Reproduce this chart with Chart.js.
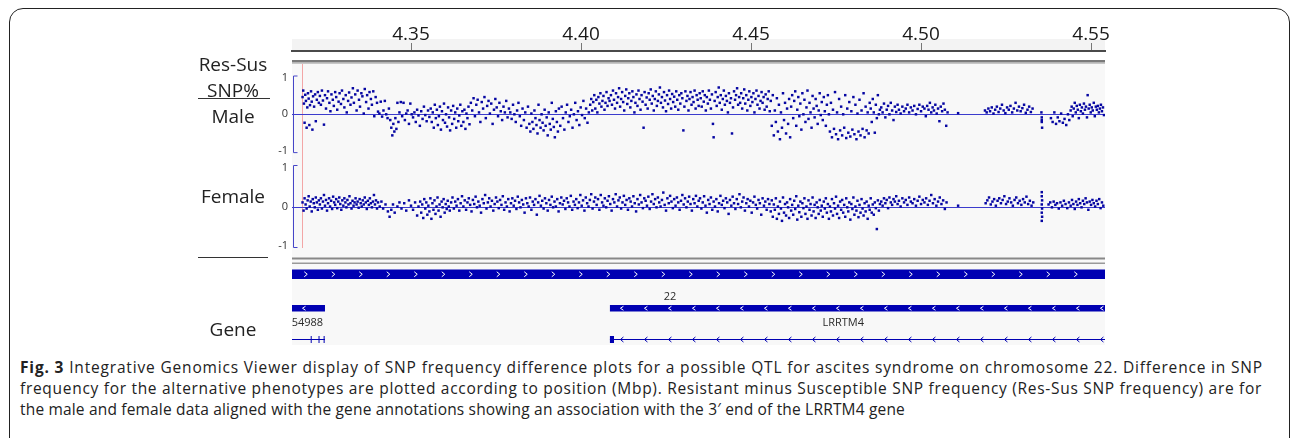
<!DOCTYPE html>
<html lang="en">
<head>
<meta charset="UTF-8">
<title>SNP frequency difference, chr22</title>
<script src="https://cdn.jsdelivr.net/npm/chart.js@4.4.1/dist/chart.umd.min.js"></script>
<style>
  html, body { margin: 0; padding: 0; background: #fff; }
  body { width: 1292px; height: 438px; overflow: hidden; position: relative; font-family: 'Open Sans', sans-serif; color: #222; }
  #frame { position: absolute; left: 9px; top: 8px; width: 1279px; height: 520px; border: 1.5px solid #222; border-radius: 14px; }
  #chart { position: absolute; left: 0; top: 0; }
  .lbl { position: absolute; left: 188px; width: 90px; text-align: center; font-size: 19px; line-height: 24px; color: #222; }
  .rule { position: absolute; height: 0; border-top: 1.5px solid #333; }
  .cap { position: absolute; left: 20px; top: 357px; font-size: 15.5px; line-height: 21px; color: #222; }
  .cap span { display: inline-block; white-space: nowrap; }
</style>
</head>
<body>
<div id="frame"></div>
<canvas id="chart" width="1292" height="350"></canvas>

<!-- track names -->
<div class="lbl" style="top:52px">Res-Sus</div>
<div class="lbl" style="top:78px">SNP%</div>
<div class="rule" style="left:198px; top:98px; width:72px"></div>
<div class="lbl" style="top:104px">Male</div>
<div class="lbl" style="top:184px">Female</div>
<div class="rule" style="left:198px; top:257px; width:70px"></div>
<div class="lbl" style="top:317px">Gene</div>

<div class="cap">
  <span data-w="1243"><b>Fig. 3</b> Integrative Genomics Viewer display of SNP frequency difference plots for a possible QTL for ascites syndrome on chromosome 22. Difference in SNP</span><br>
  <span data-w="1242">frequency for the alternative phenotypes are plotted according to position (Mbp). Resistant minus Susceptible SNP frequency (Res-Sus SNP frequency) are for</span><br>
  <span data-w="885">the male and female data aligned with the gene annotations showing an association with the 3′ end of the LRRTM4 gene</span>
</div>

<script>
    //-------------------------------- data --------------------------------
    var xTicks = [4.35, 4.40, 4.45, 4.50, 4.55];     // Mbp
    var viewStart = 4.3150, viewEnd = 4.5541;
    var markerPos = 4.3179;

    // [position Mbp, Res-Sus SNP frequency]
    var maleSnp = [
        [4.3181,0.45],[4.3183,0.62],[4.3185,0.28],[4.3187,-0.22],[4.3189,0.51],[4.3191,0.35],[4.3193,-0.35],[4.3195,0.18],[4.3197,0.55],[4.3199,0.41],[4.3201,-0.28],[4.3203,0.24],[4.3206,0.6],[4.3208,0.33],[4.321,-0.4],[4.3212,0.47],[4.3215,0.2],[4.3218,0.52],[4.322,-0.18],[4.3223,0.38],[4.3226,0.58],[4.3229,0.3],
        [4.3232,0.48],[4.3235,0.25],[4.3238,0.62],[4.3241,0.36],[4.3244,-0.27],[4.3247,0.5],[4.325,0.15],[4.3253,0.42],[4.3256,0.6],[4.326,0.3],[4.3263,0.08],[4.3266,0.52],[4.327,0.38],[4.3273,0.22],[4.3277,0.58],[4.328,0.45],[4.3283,0.12],[4.3287,0.33],[4.329,0.55],[4.3294,0.27],[4.3297,0.62],[4.3301,0.4],[4.3304,0.18],[4.3308,0.5],[4.3311,0.05],[4.3315,0.35],[4.3318,0.57],[4.3322,0.25],[4.3325,0.44],[4.3329,0.68],[4.3332,0.3],[4.3336,0.52],[4.334,0.1],[4.3343,0.62],[4.3347,0.38],[4.335,0.2],[4.3354,0.55],[4.3357,0.47],[4.3361,0.02],[4.3364,0.66],[4.3368,0.32],[4.3371,0.5],[4.3375,0.15],[4.3378,0.58],[4.3382,0.4],[4.3385,0.25],[4.3389,0.6],[4.3392,-0.05],[4.3396,0.45],[4.34,0.3],[4.3403,0.07],
        [4.3407,0.02],[4.3411,0.33],[4.3415,-0.06],[4.3419,0.1],[4.3423,0.35],[4.3427,0.0],[4.3431,-0.1],[4.3435,0.15],
        [4.3439,-0.15],[4.3442,-0.35],[4.3445,-0.55],[4.3448,-0.25],[4.3451,-0.45],[4.3454,-0.1],[4.3457,-0.38],[4.346,0.3],[4.3463,-0.2],[4.3466,0.05],
        [4.347,0.32],[4.3474,-0.05],[4.3478,0.3],[4.3482,-0.15],[4.3486,0.02],[4.349,0.1],[4.3494,-0.25],[4.3498,0.28],[4.3502,0.0],[4.3506,-0.08],[4.351,0.05],[4.3514,-0.2],[4.3518,0.12],[4.3522,-0.03],[4.3526,-0.3],[4.353,0.08],[4.3534,-0.12],[4.3538,0.2],[4.3542,-0.02],[4.3546,-0.18],[4.355,0.1],[4.3554,-0.07],
        [4.3558,0.15],[4.3561,-0.2],[4.3564,0.05],[4.3567,-0.35],[4.357,0.25],[4.3573,-0.1],[4.3576,0.12],[4.3579,-0.28],[4.3582,-0.05],[4.3585,0.2],[4.3588,-0.4],[4.3591,0.08],[4.3594,-0.15],[4.3597,0.28],[4.36,-0.22],[4.3603,0.0],[4.3606,-0.32],[4.3609,0.18],[4.3612,-0.08],[4.3615,-0.42],[4.3618,0.1],[4.3621,-0.25],[4.3624,0.22],[4.3627,-0.12],[4.363,0.05],[4.3633,-0.35],[4.3636,0.15],[4.3639,-0.18],[4.3642,-0.03],[4.3645,0.25],[4.3648,-0.3],[4.3651,0.08],[4.3654,-0.2],[4.3657,0.12],[4.366,-0.38],[4.3663,0.02],[4.3666,-0.1],[4.3669,0.2],[4.3672,-0.26],
        [4.3676,0.3],[4.368,0.1],[4.3684,0.42],[4.3688,-0.05],[4.3692,0.25],[4.3696,0.38],[4.37,0.05],[4.3704,-0.2],[4.3708,0.32],[4.3712,0.15],[4.3716,0.45],[4.372,-0.1],[4.3724,0.22],[4.3728,0.35],[4.3732,0.02],[4.3736,0.28],[4.374,-0.25],[4.3744,0.12],[4.3748,0.4],[4.3752,0.18],[4.3756,-0.05],[4.376,0.3],[4.3764,0.08],[4.3768,-0.15],[4.3772,0.2],[4.3776,0.05],[4.378,0.35],[4.3784,-0.08],[4.3788,0.15],
        [4.3792,0.05],[4.3796,-0.12],[4.38,0.25],[4.3804,0.0],[4.3808,-0.2],[4.3812,0.1],[4.3816,0.3],[4.382,-0.05],[4.3824,-0.3],[4.3828,0.15],[4.3832,-0.15],[4.3836,0.05],[4.384,-0.35],[4.3844,0.2],[4.3848,-0.25],[4.3851,-0.45],[4.3854,0.02],[4.3857,-0.2],[4.386,-0.38],[4.3863,0.1],[4.3866,-0.1],[4.3869,-0.28],[4.3872,-0.5],[4.3875,0.25],[4.3878,-0.15],[4.3881,-0.35],[4.3884,0.0],[4.3887,-0.22],[4.389,-0.42],[4.3893,0.12],[4.3896,-0.3],[4.3899,-0.08],[4.3902,-0.55],[4.3905,0.05],[4.3908,-0.25],[4.3911,-0.4],[4.3914,0.3],[4.3917,-0.12],[4.392,-0.33],[4.3923,-0.6],[4.3926,0.08],[4.3929,-0.2],[4.3932,-0.45],[4.3935,0.15],
        [4.3939,-0.3],[4.3943,0.2],[4.3947,-0.1],[4.3951,-0.4],[4.3955,0.05],[4.3959,0.25],[4.3963,-0.2],[4.3967,-0.05],[4.3971,0.12],[4.3975,-0.35],[4.3979,0.0],[4.3983,0.3],[4.3987,-0.15],[4.3991,0.08],[4.3995,-0.28],[4.3999,0.18],[4.4003,-0.02],[4.4007,0.35],[4.4011,-0.1],[4.4015,0.15],[4.4019,-0.22],[4.4023,0.05],
        [4.4027,0.25],[4.403,0.4],[4.4033,0.1],[4.4036,0.32],[4.4039,0.5],[4.4042,0.15],[4.4045,0.38],[4.4048,0.05],[4.4051,0.45],[4.4054,0.28],[4.4057,0.55],[4.406,0.2],[4.4063,0.35],[4.4066,0.48],[4.4069,0.12],[4.4072,0.3],[4.4075,0.58],[4.4078,0.22],[4.4081,0.42],[4.4084,0.35],
        [4.4088,0.5],[4.4091,0.25],[4.4094,0.62],[4.4097,0.38],[4.41,0.15],[4.4103,0.55],[4.4106,0.3],[4.4109,0.45],[4.4112,0.68],[4.4115,0.2],[4.4118,0.4],[4.4121,0.58],[4.4124,0.32],[4.4127,0.1],[4.413,0.48],[4.4133,0.65],[4.4136,0.27],[4.4139,0.42],[4.4142,0.55],[4.4145,0.18],[4.4148,0.35],[4.4151,0.6],[4.4154,0.45],[4.4157,0.05],[4.416,0.3],[4.4163,0.52],[4.4166,0.22],[4.4169,0.62],[4.4172,0.4],[4.4175,0.12],[4.4178,0.5],[4.4181,0.33],[4.4184,-0.35],[4.4187,0.58],[4.419,0.25],[4.4193,0.44],[4.4196,0.15],[4.4199,0.55],[4.4202,0.38],[4.4205,0.65],[4.4208,0.28],[4.4211,0.48],[4.4214,0.1],[4.4217,0.4],[4.422,0.6],[4.4223,0.22],[4.4226,0.35],[4.4229,0.52],[4.4232,0.7],[4.4235,0.3],[4.4238,0.45],[4.4241,0.18],[4.4244,0.58],[4.4247,0.36],[4.425,0.08],[4.4253,0.5],[4.4256,0.27],[4.4259,0.62],[4.4262,0.4],[4.4265,0.15],[4.4268,0.53],[4.4271,0.32],[4.4274,0.46],[4.4277,0.2],[4.428,0.6],[4.4283,0.38],[4.4286,0.12],[4.4289,0.5],[4.4292,0.28],[4.4295,0.55],[4.4298,0.42],[4.4301,-0.42],[4.4304,0.2],[4.4307,0.6],[4.431,0.35],[4.4313,0.48],[4.4316,0.1],[4.4319,0.4],[4.4322,0.58],[4.4325,0.25],[4.4328,0.45],[4.4331,0.32],[4.4334,0.62],[4.4337,0.15],[4.434,0.5],[4.4343,0.38],[4.4346,0.22],[4.4349,0.55],
        [4.4352,0.42],[4.4355,0.2],[4.4358,0.6],[4.4361,0.33],[4.4364,0.5],[4.4367,0.1],[4.437,0.45],[4.4373,0.28],[4.4376,0.62],[4.4379,0.38],[4.4382,0.15],[4.4385,0.52],[4.4388,-0.25],[4.439,-0.6],[4.4393,0.35],[4.4396,0.58],[4.4399,0.22],[4.4402,0.45],[4.4405,0.7],[4.4408,0.3],[4.4411,0.5],[4.4414,0.12],[4.4417,0.4],[4.442,0.62],[4.4423,0.25],[4.4426,0.48],[4.4429,0.35],[4.4432,0.05],[4.4435,0.55],[4.4438,0.3],[4.4441,0.42],[4.4444,-0.5],[4.4447,0.18],[4.445,0.6],[4.4453,0.38],[4.4456,0.5],[4.4459,0.68],[4.4462,0.25],[4.4465,0.45],
        [4.4468,0.3],[4.4471,0.55],[4.4474,0.15],[4.4477,0.42],[4.448,0.65],[4.4483,0.28],[4.4486,0.5],[4.4489,0.1],[4.4492,0.38],[4.4495,0.6],[4.4498,0.22],[4.4501,0.45],[4.4504,0.32],[4.4507,0.55],[4.451,0.05],[4.4513,0.4],[4.4516,0.62],[4.4519,0.25],[4.4522,0.48],[4.4525,0.15],[4.4528,0.35],[4.4531,0.58],[4.4534,0.3],[4.4537,0.45],[4.454,0.12],[4.4543,0.52],[4.4546,0.2],[4.4549,0.4],[4.4552,0.6],[4.4555,0.08],
        [4.4558,0.35],[4.4561,-0.3],[4.4564,0.5],[4.4567,-0.55],[4.457,0.1],[4.4573,-0.2],[4.4576,0.42],[4.4579,-0.45],[4.4582,0.25],[4.4585,-0.65],[4.4588,0.05],[4.4591,-0.35],[4.4594,0.55],[4.4597,-0.15],[4.46,0.3],[4.4603,-0.5],[4.4606,0.15],[4.4609,-0.25],[4.4612,0.4],[4.4615,-0.6],
        [4.4618,0.2],[4.4621,0.5],[4.4624,-0.1],[4.4627,0.35],[4.463,0.6],[4.4633,-0.3],[4.4636,0.12],[4.4639,0.45],[4.4642,-0.05],[4.4645,0.28],[4.4648,-0.4],[4.4651,0.55],[4.4654,0.0],[4.4657,0.38],[4.466,-0.2],[4.4663,0.18],[4.4666,0.62],[4.4669,-0.12],[4.4672,0.3],[4.4675,0.05],[4.4678,-0.35],[4.4681,0.48],[4.4684,0.15],[4.4687,-0.08],[4.469,0.4],[4.4693,0.22],[4.4696,-0.25],[4.4699,0.1],[4.4702,0.55],[4.4705,-0.02],[4.4708,0.32],[4.4711,-0.15],[4.4714,0.45],[4.4717,0.08],[4.472,-0.3],[4.4723,0.25],[4.4726,0.5],[4.4729,0.0],
        [4.4732,-0.45],[4.4735,0.3],[4.4738,-0.6],[4.4741,0.12],[4.4744,-0.38],[4.4747,0.58],[4.475,-0.52],[4.4753,0.05],[4.4756,-0.65],[4.4759,0.4],[4.4762,-0.42],[4.4765,0.2],[4.4768,-0.55],[4.4771,0.0],[4.4774,-0.35],[4.4777,0.5],[4.478,-0.62],[4.4783,0.15],[4.4786,-0.48],[4.4789,0.32],[4.4792,-0.58],[4.4795,0.08],[4.4798,-0.4],[4.4801,0.45],[4.4804,-0.52],[4.4807,0.25],[4.481,-0.65],[4.4813,0.02],[4.4816,-0.45],[4.4819,0.38],[4.4822,-0.55],[4.4825,0.1],[4.4828,-0.38],[4.4831,0.55],[4.4834,-0.6],[4.4837,0.2],[4.484,-0.42],[4.4843,0.05],[4.4846,-0.5],[4.4849,0.3],
        [4.4852,0.15],[4.4855,-0.2],[4.4858,0.4],[4.4861,0.05],[4.4864,-0.48],[4.4867,0.25],[4.487,-0.1],[4.4873,0.5],[4.4876,0.0],[4.4879,0.12],
        [4.4883,0.18],[4.4887,0.05],[4.4891,0.28],[4.4895,-0.08],[4.4899,0.12],[4.4903,0.22],[4.4907,0.0],[4.4911,0.3],[4.4915,0.1],[4.4919,-0.15],[4.4923,0.2],[4.4927,0.06],[4.4931,0.25],[4.4935,0.12],[4.494,0.02],[4.4945,0.2],[4.495,0.08],[4.4955,0.15],[4.496,0.25],[4.4965,0.05],[4.497,0.18],[4.4975,0.1],[4.498,0.22],[4.4985,0.0],[4.499,0.14],[4.4995,0.25],[4.5,0.08],[4.5005,0.2],[4.501,0.15],[4.5014,-0.05],[4.5018,0.22],[4.5022,0.12],[4.5026,0.3],[4.503,0.05],[4.5034,0.18],[4.5038,0.1],[4.5042,0.25],[4.5046,0.02],[4.505,0.15],[4.5054,-0.18],[4.5058,0.2],[4.5062,0.08],[4.5066,0.28],[4.507,0.12],[4.5074,-0.3],[4.5078,0.05],
        [4.5109,0.03],
        [4.5188,0.1],[4.5193,0.05],[4.5198,0.15],[4.5203,0.08],[4.5208,0.18],[4.5213,0.02],[4.5218,0.12],[4.5223,0.2],[4.5228,0.06],[4.5233,0.15],[4.5238,0.25],[4.5243,0.1],[4.5248,0.03],[4.5253,0.18],[4.5258,0.12],[4.5263,0.22],[4.5268,0.05],[4.5273,0.15],[4.5278,0.3],[4.5283,0.1],[4.5288,0.2],[4.5293,0.08],[4.5298,0.16],[4.5303,0.25],[4.5308,0.04],[4.5313,0.12],[4.5318,0.2],[4.5323,0.06],[4.5328,0.15],
        [4.5354,0.05],[4.5355,-0.08],[4.5355,-0.2],[4.5356,-0.35],[4.5355,-0.15],
        [4.5382,-0.1],[4.5387,-0.2],[4.5392,0.05],[4.5397,-0.25],[4.5402,-0.08],[4.5407,-0.18],[4.5412,0.02],[4.5417,-0.22],[4.5422,-0.12],[4.5427,-0.28],[4.5432,0.0],[4.5436,-0.15],
        [4.544,0.1],[4.5443,0.2],[4.5446,-0.05],[4.5449,0.15],[4.5452,0.3],[4.5455,0.05],[4.5458,0.22],[4.5461,0.12],[4.5464,-0.1],[4.5467,0.25],[4.547,0.08],[4.5473,0.18],[4.5476,0.02],[4.5479,0.28],[4.5482,0.12],[4.5485,0.2],[4.5488,-0.08],[4.549,0.5],[4.5493,0.15],[4.5496,0.25],[4.5499,0.05],[4.5502,0.18],[4.5505,0.1],[4.5508,0.3],[4.5511,-0.05],[4.5514,0.2],[4.5517,0.12],[4.552,0.22],[4.5523,0.05],[4.5526,0.15],[4.5529,0.25],[4.5532,0.08],[4.5535,0.18],[4.5538,-0.02]
    ];

    var femaleSnp = [
        [4.3181,0.1],[4.3184,-0.1],[4.3187,0.2],[4.319,0.05],[4.3193,-0.05],[4.3196,0.15],[4.3199,0.25],[4.3202,0.0],[4.3205,0.12],[4.3208,-0.12],[4.3211,0.18],[4.3214,0.08],[4.3217,-0.02],[4.322,0.22],[4.3223,0.1],[4.3226,-0.08],[4.3229,0.15],[4.3232,0.05],[4.3235,0.2],[4.3238,-0.05],[4.3241,0.12],[4.3244,0.28],[4.3247,0.02],[4.325,0.16],[4.3253,-0.1],[4.3256,0.08],[4.3259,0.2],[4.3262,0.0],[4.3265,0.14],[4.3268,-0.06],[4.3271,0.24],[4.3274,0.1],[4.3277,0.04],[4.328,0.18],[4.3283,-0.04],[4.3286,0.12],[4.3289,0.22],[4.3292,0.06],[4.3295,-0.08],[4.3298,0.15],[4.3301,0.02],[4.3304,0.2],[4.3307,0.1],[4.331,-0.02],[4.3313,0.16],[4.3316,0.05],[4.3319,0.25],[4.3322,0.08],[4.3325,-0.05],[4.3328,0.14],[4.3331,0.02],[4.3334,0.1],[4.3337,0.2],[4.334,0.05],[4.3343,0.12],[4.3346,-0.03],[4.3349,0.18],[4.3352,0.08],[4.3355,0.0],[4.3358,0.15],[4.3361,0.05],[4.3364,0.22],[4.3367,0.1],[4.337,-0.06],[4.3373,0.14],[4.3376,0.04],[4.3379,0.2],[4.3382,0.08],[4.3385,-0.02],[4.3388,0.12],[4.3391,0.28],[4.3394,0.05],[4.3397,0.15],[4.34,-0.05],[4.3403,0.1],
        [4.3408,0.0],[4.3413,0.12],[4.3418,-0.05],[4.3425,0.05],
        [4.3432,-0.12],[4.3437,-0.25],[4.3442,-0.08],[4.3447,0.05],[4.3452,-0.15],[4.346,0.0],[4.3466,0.1],[4.3472,-0.05],[4.348,0.08],[4.3486,-0.1],[4.3494,0.15],[4.35,0.02],[4.3506,-0.08],[4.3512,0.1],[4.3518,-0.22],[4.3522,0.0],
        [4.3527,0.12],[4.353,-0.15],[4.3533,0.05],[4.3536,-0.28],[4.3539,0.18],[4.3542,-0.05],[4.3545,0.1],[4.3548,-0.2],[4.3551,0.02],[4.3554,-0.12],[4.3557,0.2],[4.356,-0.3],[4.3563,0.08],[4.3566,-0.08],[4.3569,0.15],[4.3572,-0.18],[4.3575,0.0],[4.3578,0.22],[4.3581,-0.1],[4.3584,0.05],[4.3587,-0.25],[4.359,0.12],[4.3593,-0.02],[4.3596,0.18],[4.3599,-0.15],[4.3602,0.06],[4.3605,-0.06],[4.3608,0.14],[4.3611,0.0],[4.3614,-0.1],
        [4.3618,0.1],[4.3622,0.22],[4.3626,-0.05],[4.363,0.12],[4.3634,0.02],[4.3638,0.18],[4.3642,-0.1],[4.3646,0.08],[4.365,0.25],[4.3654,0.0],[4.3658,0.15],[4.3662,-0.08],[4.3666,0.1],[4.367,0.2],[4.3674,0.04],[4.3678,-0.12],[4.3682,0.16],[4.3686,0.06],[4.369,0.24],[4.3694,-0.02],[4.3698,0.12],[4.3702,0.02],[4.3706,-0.15],[4.371,0.18],[4.3714,0.08],[4.3718,0.28],[4.3722,-0.05],[4.3726,0.1],[4.373,0.2],[4.3734,0.0],[4.3738,0.14],[4.3742,-0.1],[4.3746,0.06],[4.375,0.22],[4.3754,0.12],[4.3758,-0.04],[4.3762,0.16],[4.3766,0.04],[4.377,0.25],[4.3774,-0.08],[4.3778,0.1],[4.3782,0.0],[4.3786,0.18],[4.379,-0.12],[4.3794,0.08],[4.3798,0.2],[4.3802,0.02],[4.3806,0.14],[4.381,-0.06],[4.3814,0.24],[4.3818,0.1],[4.3822,-0.02],[4.3826,0.16],[4.383,0.05],[4.3834,-0.15],[4.3838,0.2],[4.3842,0.08],[4.3846,0.0],[4.385,0.22],[4.3854,-0.08],[4.3858,0.12],[4.3862,0.04],[4.3866,0.18],[4.387,-0.2],[4.3874,0.1],[4.3878,0.26],[4.3882,0.02],[4.3886,0.14],[4.389,-0.05],[4.3894,0.2],[4.3898,0.08],[4.3902,-0.1],[4.3906,0.16],[4.391,0.04],[4.3914,0.24],[4.3918,-0.02],[4.3922,0.12],[4.3926,0.0],[4.393,0.18],[4.3934,-0.12],[4.3938,0.08],[4.3942,0.22],[4.3946,0.05],[4.395,0.14],[4.3954,-0.06],[4.3958,0.2],[4.3962,0.1],[4.3966,0.0],[4.397,0.26],[4.3974,-0.08],[4.3978,0.12],[4.3982,0.04],[4.3986,0.18],[4.399,-0.04],[4.3994,0.1],[4.3998,0.28],[4.4002,0.02],[4.4006,0.15],[4.401,-0.1],[4.4014,0.22],[4.4018,0.08],[4.4022,0.0],[4.4026,0.16],[4.403,0.3],[4.4034,-0.05],[4.4038,0.12],[4.4042,0.22],[4.4046,0.04],[4.405,0.18],[4.4054,-0.08],[4.4058,0.28],[4.4062,0.1],[4.4066,0.02],[4.407,0.2],[4.4074,-0.02],[4.4078,0.14],[4.4082,0.25],[4.4086,0.06],[4.409,-0.1],[4.4094,0.18],[4.4098,0.1],[4.4102,0.3],[4.4106,0.0],[4.411,0.15],[4.4114,0.22],[4.4118,-0.05],[4.4122,0.1],[4.4126,0.26],[4.413,0.04],[4.4134,0.16],[4.4138,-0.08],[4.4142,0.2],[4.4146,0.12],[4.415,0.0],[4.4154,0.25],[4.4158,0.08],[4.4162,-0.12],[4.4166,0.18],[4.417,0.05],[4.4174,0.28],[4.4178,0.1],[4.4182,-0.04],[4.4186,0.2],[4.419,0.14],[4.4194,0.02],[4.4198,0.24],[4.4202,-0.06],[4.4206,0.12],[4.421,0.3],[4.4214,0.06],[4.4218,0.18],[4.4222,-0.02],[4.4226,0.22],[4.423,0.1],[4.4234,0.0],[4.4238,0.16],[4.4242,0.34],[4.4246,0.04],[4.425,-0.1],[4.4254,0.2],[4.4258,0.08],[4.4262,0.26],[4.4266,0.12],[4.427,-0.04],[4.4274,0.18],[4.4278,0.02],[4.4282,0.22],[4.4286,0.1],[4.429,-0.08],[4.4294,0.14],[4.4298,0.28],[4.4302,0.05],[4.4306,0.2],[4.431,-0.02],[4.4314,0.12],[4.4318,0.24],[4.4322,0.06],[4.4326,-0.1],[4.433,0.18],[4.4334,0.08],[4.4338,0.26],[4.4342,0.0],[4.4346,0.14],
        [4.435,0.2],[4.4354,-0.05],[4.4358,0.1],[4.4362,0.25],[4.4366,0.02],[4.437,-0.15],[4.4374,0.16],[4.4378,0.06],[4.4382,0.22],[4.4386,-0.08],[4.439,0.12],[4.4394,0.0],[4.4398,0.18],[4.4402,-0.12],[4.4406,0.08],[4.441,0.26],[4.4414,0.04],[4.4418,0.14],[4.4422,-0.04],[4.4426,0.2],[4.443,0.1],[4.4434,-0.18],[4.4438,0.16],[4.4442,0.02],[4.4446,0.24],[4.445,0.08],[4.4454,-0.06],[4.4458,0.18],[4.4462,0.06],[4.4466,0.3],[4.447,-0.02],[4.4474,0.12],[4.4478,0.22],[4.4482,-0.1],[4.4486,0.08],[4.449,0.18],[4.4494,0.0],[4.4498,0.14],[4.4502,-0.15],[4.4506,0.1],[4.451,0.24],[4.4514,0.04],[4.4518,-0.05],[4.4522,0.16],[4.4526,0.08],[4.453,-0.2],[4.4534,0.2],[4.4538,0.02],[4.4542,0.12],[4.4546,-0.08],[4.455,0.18],[4.4554,0.06],
        [4.4558,-0.12],[4.4561,0.15],[4.4564,-0.25],[4.4567,0.05],[4.457,-0.08],[4.4573,0.2],[4.4576,-0.3],[4.4579,0.0],[4.4582,-0.18],[4.4585,0.12],[4.4588,-0.05],[4.4591,-0.35],[4.4594,0.22],[4.4597,-0.15],[4.46,0.06],[4.4603,-0.22],[4.4606,0.1],[4.4609,-0.02],[4.4612,-0.28],[4.4615,0.18],[4.4618,-0.1],[4.4621,0.04],[4.4624,-0.2],[4.4627,0.14],[4.463,-0.06],[4.4633,0.25],[4.4636,-0.32],[4.4639,0.02],[4.4642,-0.14],[4.4645,0.12],[4.4648,-0.25],[4.4651,0.08],[4.4654,-0.04],[4.4657,0.2],[4.466,-0.18],[4.4663,0.0],[4.4666,-0.3],[4.4669,0.15],[4.4672,-0.08],[4.4675,0.06],[4.4678,-0.22],[4.4681,0.22],[4.4684,-0.12],[4.4687,0.04],[4.469,-0.28],[4.4693,0.1],[4.4696,-0.02],[4.4699,-0.18],[4.4702,0.16],[4.4705,-0.1],[4.4708,0.02],[4.4711,-0.25],[4.4714,0.12],[4.4717,-0.05],[4.472,0.2],[4.4723,-0.15],[4.4726,0.06],[4.4729,-0.3],[4.4732,0.0],[4.4735,-0.12],[4.4738,0.18],[4.4741,-0.22],[4.4744,0.08],[4.4747,-0.05],[4.475,0.24],[4.4753,-0.18],[4.4756,0.02],[4.4759,-0.28],[4.4762,0.12],[4.4765,-0.08],[4.4768,0.16],[4.4771,-0.15],[4.4774,0.04],[4.4777,-0.25],[4.478,0.2],[4.4783,-0.02],[4.4786,-0.12],[4.4789,0.1],[4.4792,-0.32],[4.4795,0.06],[4.4798,-0.06],[4.4801,0.22],[4.4804,-0.2],[4.4807,0.0],[4.481,-0.1],[4.4813,0.14],[4.4816,-0.26],[4.4819,0.04],[4.4822,-0.15],[4.4825,0.18],[4.4828,-0.05],[4.4831,-0.22],[4.4834,0.08],[4.4837,-0.12],[4.484,0.12],[4.4843,-0.3],[4.4846,0.02],[4.4849,-0.08],[4.4852,0.2],[4.4855,-0.15],[4.4858,0.05],[4.4861,-0.2],[4.4864,0.1],[4.4867,-0.04],[4.487,-0.55],[4.4873,0.15],[4.4876,-0.1],[4.4879,0.06],
        [4.4883,0.12],[4.4887,0.02],[4.4891,0.2],[4.4895,0.08],[4.4899,0.16],[4.4903,-0.04],[4.4907,0.22],[4.4911,0.1],[4.4915,0.04],[4.4919,0.18],[4.4923,0.12],[4.4927,0.25],[4.4931,0.06],[4.4935,0.14],[4.494,0.0],[4.4945,0.2],[4.495,0.1],[4.4955,0.16],[4.496,0.04],[4.4965,0.22],[4.497,0.12],[4.4975,0.08],[4.498,0.18],[4.4985,0.02],[4.499,0.14],[4.4995,0.24],[4.5,0.06],[4.5005,0.16],[4.501,0.1],[4.5015,0.2],[4.502,0.04],[4.5025,0.14],[4.503,0.28],[4.5035,0.08],[4.504,0.18],[4.5045,0.02],[4.505,0.12],[4.5055,0.22],[4.506,0.06],[4.5065,0.15],[4.507,-0.06],[4.5075,0.1],
        [4.5109,0.02],
        [4.519,0.08],[4.5195,0.15],[4.52,0.22],[4.5205,0.05],[4.521,0.12],[4.5215,0.18],[4.522,0.02],[4.5225,0.14],[4.523,0.2],[4.5235,0.08],[4.524,0.16],[4.5245,0.25],[4.525,0.06],[4.5255,0.12],[4.526,0.2],[4.5265,0.1],[4.527,0.02],[4.5275,0.16],[4.528,0.22],[4.5285,0.08],[4.529,0.14],[4.5295,0.04],[4.53,0.18],[4.5305,0.1],[4.531,0.24],[4.5315,0.06],[4.532,0.14],[4.5325,0.02],[4.533,0.1],
        [4.5355,0.35],[4.5355,0.25],[4.5356,0.15],[4.5355,0.05],[4.5356,-0.05],[4.5355,-0.15],[4.5356,-0.25],[4.5355,-0.35],
        [4.5375,0.05],[4.538,0.1],[4.5385,-0.02],[4.539,0.12],[4.5395,0.04],[4.54,0.08],[4.5405,-0.05],[4.541,0.1],[4.5415,0.02],[4.542,0.14],[4.5425,0.06],[4.543,-0.04],[4.5435,0.1],[4.544,0.02],[4.5444,0.16],[4.5448,0.06],[4.5452,-0.06],[4.5456,0.12],[4.546,0.04],[4.5464,0.18],[4.5468,0.08],[4.5472,-0.02],[4.5476,0.14],[4.548,0.06],[4.5484,0.2],[4.5488,0.1],[4.5492,-0.08],[4.5496,0.12],[4.55,0.04],[4.5504,0.16],[4.5508,0.08],[4.5512,0.0],[4.5516,0.14],[4.552,0.06],[4.5524,0.18],[4.5528,-0.04],[4.5532,0.1],[4.5536,0.02]
    ];

    // gene track features (Mbp)
    var featStart  = [4.2600, 4.2900, 4.4085];
    var featEnd    = [4.6200, 4.3247, 4.7000];
    var featRow    = [0, 1, 1];
    var featStrand = ['+', '-', '-'];
    var featName   = ['22', 'LOC107054988', 'LRRTM4'];
    var namePos    = [4.4262, 4.3127, 4.4771];
    // transcript row
    var txStart   = [4.2900, 4.4085];
    var txEnd     = [4.3247, 4.7000];
    var exonStart = [4.3205, 4.3228, 4.3243, 4.4085];
    var exonEnd   = [4.3207, 4.3230, 4.3246, 4.4097];

    //-------------------------------- drawing --------------------------------
    var BLUE = 'rgb(0,0,178)';
    var rowTop = [269.5, 305];
    var rowH = [9.5, 6.5];
    var txY = 339.5;

    function chevrons(ctx, x0, x1, cy, step, dir, color, h) {
        ctx.strokeStyle = color;
        ctx.lineWidth = 1;
        ctx.beginPath();
        for (var cx = x0 + step / 2; cx < x1 - 2; cx += step) {
            ctx.moveTo(cx - 1.5 * dir, cy - h);
            ctx.lineTo(cx + 1.5 * dir, cy);
            ctx.lineTo(cx - 1.5 * dir, cy + h);
        }
        ctx.stroke();
    }

    var igvTracks = {
        id: 'igvTracks',
        beforeDraw: function (chart) {
            var ctx = chart.ctx, a = chart.chartArea;
            ctx.save();
            ctx.fillStyle = '#f3f3f3';
            ctx.fillRect(a.left, 39, a.width, 12);
            ctx.fillStyle = '#f8f8f8';
            ctx.fillRect(a.left, 64, a.width, a.bottom - 64);
            ctx.restore();
        },
        beforeDatasetsDraw: function (chart) {
            var ctx = chart.ctx, a = chart.chartArea, s = chart.scales, x = s.x;
            ctx.save();
            ctx.beginPath();
            ctx.rect(a.left, a.top, a.width, a.height);
            ctx.clip();

            // track separators
            ctx.fillStyle = '#7a7a7a'; ctx.fillRect(a.left, 60, a.width, 2.5);
            ctx.fillStyle = '#b0b0b0'; ctx.fillRect(a.left, 62.5, a.width, 1.2);
            ctx.fillStyle = '#888';    ctx.fillRect(a.left, 257.5, a.width, 2);
            ctx.fillStyle = '#999';    ctx.fillRect(a.left, 262.5, a.width, 1.5);

            // red position marker
            var mx = Math.round(x.getPixelForValue(markerPos)) + 0.5;
            ctx.strokeStyle = '#f3a6a6'; ctx.lineWidth = 1;
            ctx.beginPath(); ctx.moveTo(mx, 64); ctx.lineTo(mx, 248); ctx.stroke();

            // zero lines
            ctx.strokeStyle = 'rgb(60,60,205)';
            ['yM', 'yF'].forEach(function (id) {
                var y0 = Math.round(s[id].getPixelForValue(0)) + 0.5;
                ctx.beginPath(); ctx.moveTo(a.left - 2, y0); ctx.lineTo(a.right, y0); ctx.stroke();
            });

            // feature bars
            for (var i = 0; i < featStart.length; i++) {
                var x0 = Math.max(x.getPixelForValue(featStart[i]), a.left);
                var x1 = Math.min(x.getPixelForValue(featEnd[i]), a.right);
                var r = featRow[i];
                ctx.fillStyle = BLUE;
                ctx.fillRect(x0, rowTop[r], x1 - x0, rowH[r]);
                var cy = rowTop[r] + rowH[r] / 2;
                if (featStrand[i] === '+') chevrons(ctx, x0, x1, cy, 27.5, 1, '#fff', 2.5);
                else chevrons(ctx, x0, x1, cy, 24, -1, '#fff', 2);
            }
            // feature names
            ctx.fillStyle = '#2a2a2a';
            ctx.font = '11px "Open Sans"';
            ctx.textAlign = 'center';
            ctx.textBaseline = 'middle';
            for (var j = 0; j < featName.length; j++) {
                var ny = featRow[j] === 0 ? 297 : 323;
                ctx.fillText(featName[j], x.getPixelForValue(namePos[j]), ny);
            }

            // transcripts
            for (var k = 0; k < txStart.length; k++) {
                var t0 = Math.max(x.getPixelForValue(txStart[k]), a.left);
                var t1 = Math.min(x.getPixelForValue(txEnd[k]), a.right);
                ctx.strokeStyle = BLUE; ctx.lineWidth = 1;
                ctx.beginPath(); ctx.moveTo(t0, txY); ctx.lineTo(t1, txY); ctx.stroke();
                if (t1 - t0 > 100) chevrons(ctx, t0, t1, txY, 24, -1, BLUE, 2.5);
            }
            ctx.fillStyle = BLUE;
            for (var e = 0; e < exonStart.length; e++) {
                var e0 = x.getPixelForValue(exonStart[e]);
                var e1 = x.getPixelForValue(exonEnd[e]);
                ctx.fillRect(e0, txY - 3.5, Math.max(1, e1 - e0), 7);
            }
            ctx.restore();
        },
        afterDraw: function (chart) {
            var ctx = chart.ctx, a = chart.chartArea, s = chart.scales;
            ctx.save();
            ctx.font = '11px "Open Sans"';
            ctx.fillStyle = '#333';
            ctx.textAlign = 'right';
            ctx.textBaseline = 'middle';
            ctx.strokeStyle = 'rgb(70,70,200)';
            ctx.lineWidth = 1;
            ['yM', 'yF'].forEach(function (id) {
                var sc = s[id];
                var yt = sc.getPixelForValue(1), y0 = sc.getPixelForValue(0), yb = sc.getPixelForValue(-1);
                ctx.fillText('1', a.left - 4, yt + 2);
                ctx.fillText('0', a.left - 4, y0);
                ctx.fillText('-1', a.left - 4, yb - 2);
                var bx = a.left + 1.5;
                ctx.beginPath();
                ctx.moveTo(bx + 4, yt); ctx.lineTo(bx, yt); ctx.lineTo(bx, yb); ctx.lineTo(bx + 4, yb);
                ctx.stroke();
            });
            ctx.restore();
        }
    };

    function toPoints(arr) {
        return arr.map(function (p) { return { x: p[0], y: p[1] }; });
    }

    var chart = new Chart(document.getElementById('chart'), {
        type: 'scatter',
        data: {
            datasets: [
                { label: 'Male', data: toPoints(maleSnp), yAxisID: 'yM',
                  pointStyle: 'rect', pointRadius: 1.75, borderWidth: 0, backgroundColor: '#0606a2' },
                { label: 'Female', data: toPoints(femaleSnp), yAxisID: 'yF',
                  pointStyle: 'rect', pointRadius: 1.75, borderWidth: 0, backgroundColor: '#0606a2' }
            ]
        },
        options: {
            responsive: false,
            animation: false,
            events: [],
            layout: { padding: { left: 292, right: 187, top: 0, bottom: 5 } },
            plugins: { legend: { display: false }, tooltip: { enabled: false } },
            scales: {
                x: {
                    type: 'linear', position: 'top',
                    min: viewStart, max: viewEnd,
                    afterBuildTicks: function (sc) { sc.ticks = xTicks.map(function (v) { return { value: v }; }); },
                    afterFit: function (sc) { sc.height = 51; },
                    ticks: {
                        callback: function (v) { return v.toFixed(2); },
                        font: { family: 'Open Sans', size: 19 },
                        color: '#1a1a1a', padding: -3, maxRotation: 0, autoSkip: false
                    },
                    grid: { drawOnChartArea: false, drawTicks: true, tickLength: 8, color: '#777', lineWidth: 1 },
                    border: { display: true, color: '#4a4a4a', width: 2 }
                },
                yM: { type: 'linear', display: false, min: -6.023, max: 1.653 },
                yF: { type: 'linear', display: false, min: -3.378, max: 3.793 }
            }
        },
        plugins: [igvTracks]
    });

    // fit caption lines to the widths of the printed figure
    document.querySelectorAll('.cap span').forEach(function (sp) {
        var target = +sp.dataset.w;
        var w = sp.getBoundingClientRect().width;
        var n = sp.textContent.length;
        sp.style.letterSpacing = ((target - w) / n).toFixed(3) + 'px';
    });
</script>
</body>
</html>
